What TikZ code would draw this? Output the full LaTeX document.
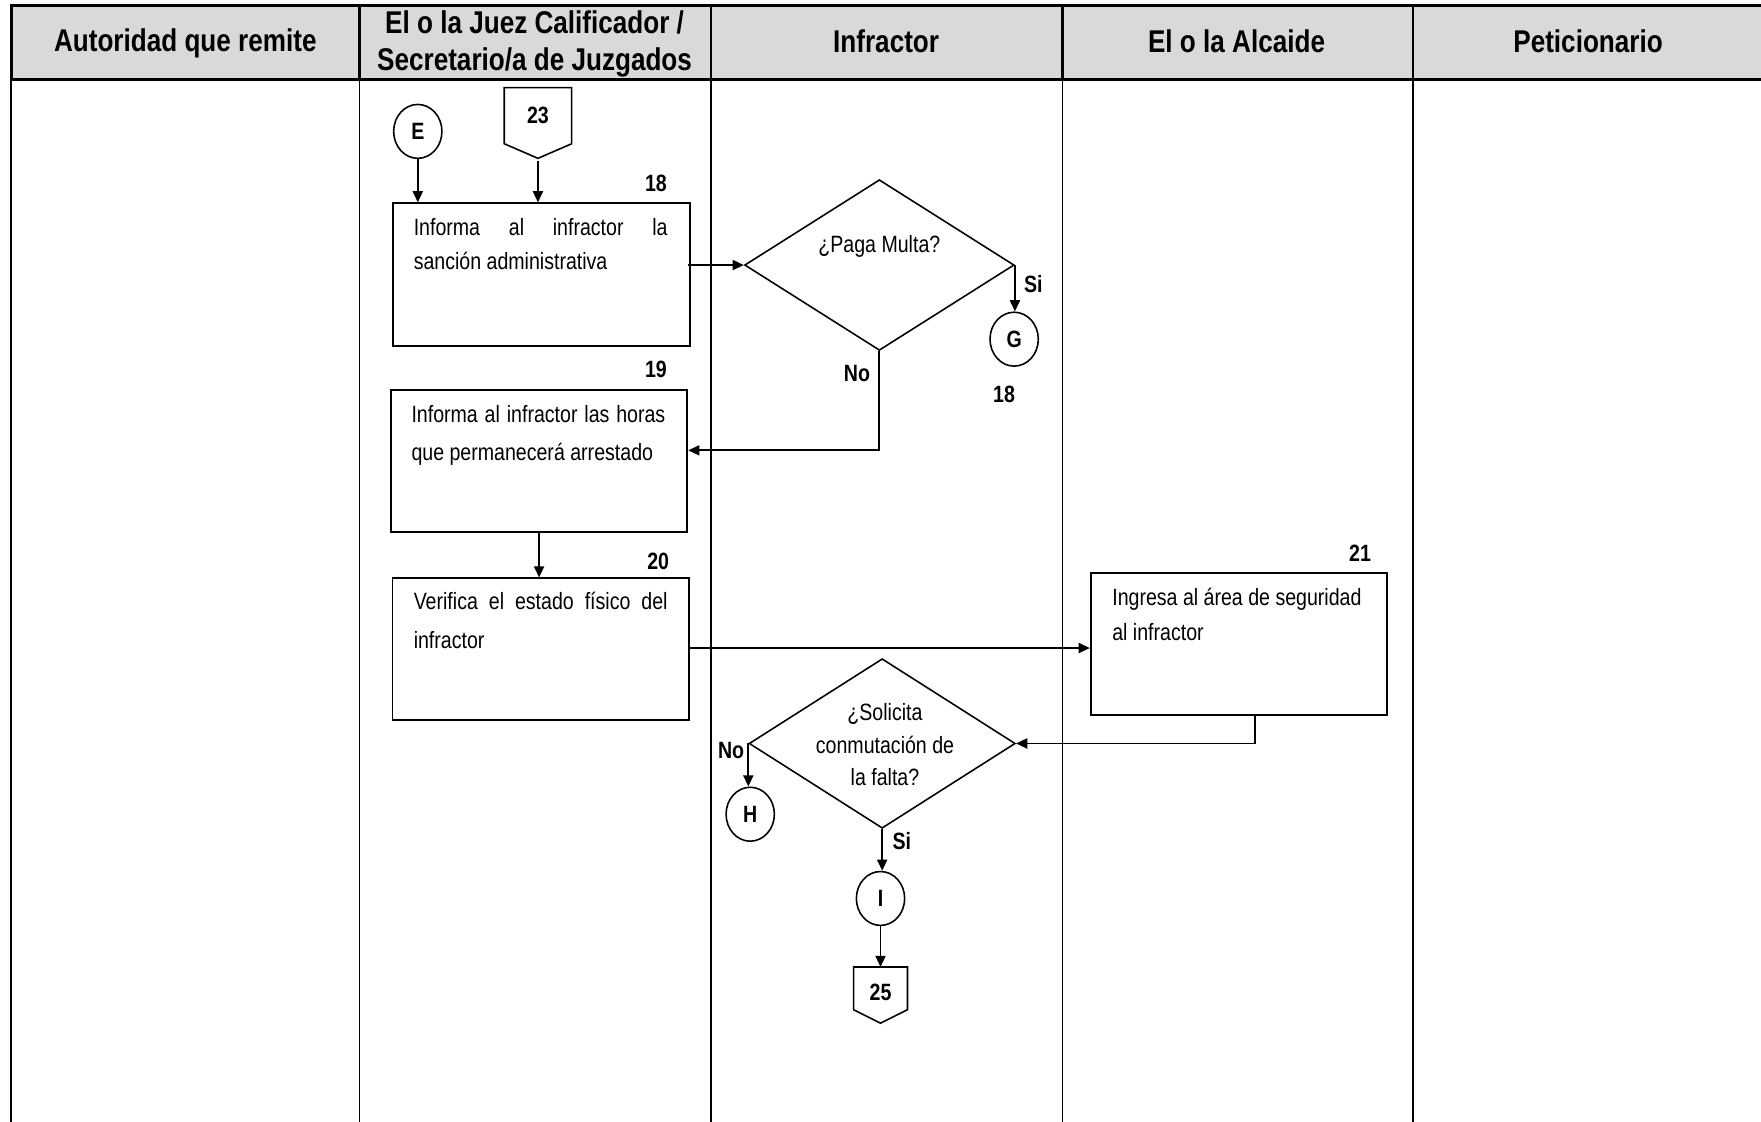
\documentclass[tikz,border=0pt]{standalone}
\usepackage{fontspec}
\setmainfont{Liberation Sans}[FakeStretch=0.83]
\usetikzlibrary{shapes.geometric,arrows.meta,calc}
\newcommand{\jl}[1]{\makebox[113pt][s]{#1}}
\begin{document}
\begin{tikzpicture}[x=0.5pt,y=-0.5pt,
  hdr/.style={font=\bfseries\fontsize{14}{16.5}\selectfont, align=center, inner sep=0},
  box/.style={draw, line width=0.8pt, inner sep=0},
  txt/.style={font=\fontsize{10.5}{15}\selectfont, inner sep=0, anchor=base west},
  dtxt/.style={font=\fontsize{10.5}{14.5}\selectfont, inner sep=0, align=center},
  lbl/.style={font=\bfseries\fontsize{10.5}{12}\selectfont, inner sep=0},
  conn/.style={draw, ellipse, line width=0.7pt, minimum width=21.5pt, minimum height=24pt, inner sep=0, font=\bfseries\fontsize{10.5}{12}\selectfont},
  dec/.style={draw, diamond, line width=0.7pt, inner sep=0},
  arr/.style={draw, line width=0.8pt, -{Triangle[length=5pt,width=4.5pt]}},
  offp/.style={draw, line width=0.7pt}
]
\useasboundingbox (0,0) rectangle (1568,999);
% header
\fill[gray!30] (10,5) rectangle (1590,71);
\draw[line width=1.2pt] (1590,5) -- (10,5) -- (10,71) -- (1590,71);
\foreach \x in {320,633,946,1258} \draw[line width=1.2pt] (\x,5) -- (\x,71);
% body lines
\draw[line width=0.9pt] (10,71) -- (10,1010);
\draw[line width=0.6pt] (320,71) -- (320,1010);
\draw[line width=0.8pt] (633,71) -- (633,1010);
\draw[line width=0.8pt] (946,71) -- (946,1010);
\draw[line width=0.6pt] (1258,71) -- (1258,1010);
% header texts
\node[hdr] (h1) at (165,39) {Autoridad que remite};
\node[hdr] (h2) at (476,39) {El o la Juez Calificador /\\Secretario/a de Juzgados};
\node[hdr] (h3) at (789,37) {Infractor};
\node[hdr] (h4) at (1101,37) {El o la Alcaide};
\node[hdr] (h5) at (1414,37) {Peticionario};
% connectors
\node[conn] (E) at (372,117) {E};
\node[conn] (G) at (903,302) {G};
\node[conn] (H) at (668,725) {H};
\node[conn] (I) at (784,800) {I};
% off-page 23
\draw[offp] (449,78) -- (509,78) -- (509,128) -- (479,141) -- (449,128) -- cycle;
\node[lbl] (p23) at (479,103) {23};
\coordinate (p23tip) at (479,143);
% off-page 25
\draw[offp] (760,861) -- (808,861) -- (808,899) -- (784,911) -- (760,899) -- cycle;
\node[lbl] (p25) at (784,884) {25};
\coordinate (p25top) at (784,861);
% boxes
\node[box, minimum width=132.4pt, minimum height=63.4pt] (b18) at (482,244.4) {};
\node[txt] (t18a) at (368,210) {\jl{Informa al infractor la}};
\node[txt] (t18b) at (368,240) {sanción administrativa};
\node[lbl] (n18) at (584,163) {18};
\node[box, minimum width=132pt, minimum height=63.3pt] (b19) at (480,410.7) {};
\node[txt] (t19a) at (366,376) {\jl{Informa al infractor las horas}};
\node[txt] (t19b) at (366,410) {que permanecerá arrestado};
\node[lbl] (n19) at (584,329) {19};
\node[box, minimum width=132pt, minimum height=63pt] (b20) at (481.5,578) {};
\node[txt] (t20a) at (368,543) {\jl{Verifica el estado físico del}};
\node[txt] (t20b) at (368,577) {infractor};
\node[lbl] (n20) at (586,500) {20};
\node[box, minimum width=132pt, minimum height=63pt] (b21) at (1103.2,573.5) {};
\node[txt] (t21a) at (990,539) {Ingresa al área de seguridad};
\node[txt] (t21b) at (990,570) {al infractor};
\node[lbl] (n21) at (1211,493) {21};
% decisions
\node[dec, minimum width=120pt, minimum height=76pt] (d1) at (783,236) {};
\node[dtxt] (q1) at (783,219) {¿Paga Multa?};
\node[dec, minimum width=118.5pt, minimum height=75.5pt] (d2) at (785.5,662) {};
\node[dtxt] (q2) at (788,663) {¿Solicita\\conmutación de\\la falta?};
% arrows
\draw[arr] (E.south) -- (E.south |- b18.north);
\draw[arr] (p23tip) -- (p23tip |- b18.north);
\draw[arr] ($(b18.east |- d1.west)+(-3,0)$) -- (d1.west);
\draw[arr] (d1.east) -- (d1.east |- G.north);
\node[lbl] (s1) at (920,253) {Si};
\node[lbl] (g18) at (894,351) {18};
\draw[arr] (d1.south) |- ($(b19.east)+(0,-9.7)$);
\node[lbl] (no1) at (763,333) {No};
\draw[arr] (b19.south) -- (b19.south |- b20.north);
\draw[arr] ($(b20.east)+(0,-1)$) -- ($(b20.east -| b21.west)+(0,-1)$);
\draw[arr] ($(b21.south)+(14,0)$) |- (d2.east);
\draw[arr] (d2.west) -- (d2.west |- H.north);
\node[lbl] (no2) at (651,668) {No};
\draw[arr] (d2.south) -- (d2.south |- I.north);
\node[lbl] (s2) at (803,749) {Si};
\draw[arr] (I.south) -- (p25top);
\end{tikzpicture}
\end{document}
